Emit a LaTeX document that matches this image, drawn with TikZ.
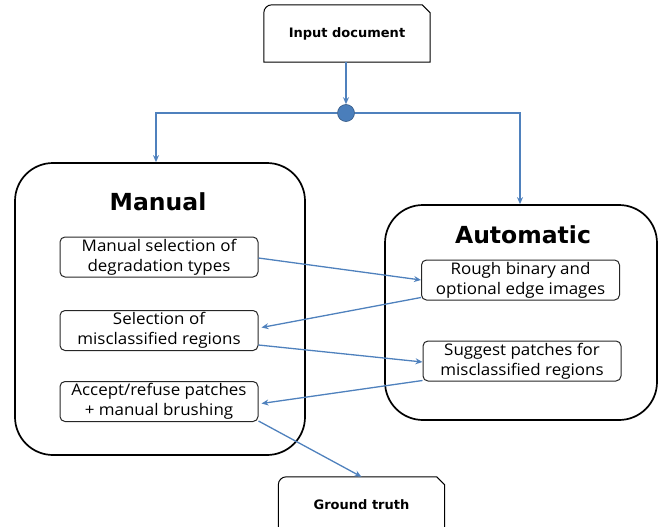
\documentclass[tikz,border=0pt]{standalone}
\usepackage{fontspec}
\setmainfont{Open Sans}
\newfontfamily\stepfont[FakeStretch=1.06]{Open Sans}
\newfontfamily\titlefont{DejaVu Sans}
\usetikzlibrary{arrows.meta,calc}
\definecolor{arrowblue}{HTML}{4F81BD}
\definecolor{dotblue}{HTML}{4A7EBB}
\tikzset{
  flow/.style={draw=arrowblue, line width=1.3pt, -{Stealth[length=7pt,width=6pt]}},
  bigbox/.style={draw=black, line width=1.7pt, rounded corners=38pt},
  stepbox/.style={draw=black!85, line width=1pt, rounded corners=5pt, minimum width=198pt, minimum height=40pt, align=center, font=\stepfont\fontsize{16}{20}\selectfont, inner sep=0pt},
  termbox/.style={minimum width=166pt, minimum height=57pt, inner sep=0pt, font=\titlefont\bfseries\fontsize{13}{15}\selectfont},
  title/.style={font=\titlefont\bfseries\fontsize{23.5}{26}\selectfont}
}
\begin{document}
\begin{tikzpicture}[x=1pt,y=-1pt]
\useasboundingbox (0,0) rectangle (667,527);
\clip (0,0) rectangle (667,527);
% Input document
\node[termbox] (in) at (347,33.5) {Input document};
\draw[line width=1pt] (in.south west) -- ($(in.north west)+(0,8)$) [rounded corners=8pt] -- (in.north west) [sharp corners] -- ($(in.north east)+(-8,0)$) -- ($(in.north east)+(0,8)$) -- (in.south east) -- cycle;
% junction
\node[circle, fill=dotblue, draw=dotblue!70!black, line width=0.6pt, minimum size=17pt, inner sep=0pt] (j) at (346,113) {};
\draw[flow] (in.south -| j) -- (j.north);
% Manual
\node[bigbox, minimum width=290pt, minimum height=292pt] (man) at (160,309) {};
\node[title] (mant) at (158,202) {Manual};
% Automatic
\node[bigbox, minimum width=272pt, minimum height=215pt] (aut) at (521,312.5) {};
\node[title] (autt) at (523,235) {Automatic};
% branches
\coordinate (jl) at (156,113);
\coordinate (jr) at (520,113);
\draw[flow] (j.west) -- (jl) -- (jl |- man.north);
\draw[flow] (j.east) -- (jr) -- (jr |- aut.north);
% steps
\node[stepbox] (s1) at (159,257) {Manual selection of\\degradation types};
\node[stepbox] (s2) at (159,330.5) {Selection of\\misclassified regions};
\node[stepbox] (s3) at (159,401.5) {Accept/refuse patches\\+ manual brushing};
\node[stepbox] (r1) at (520.5,280) {Rough binary and\\optional edge images};
\node[stepbox] (r2) at (522,361) {Suggest patches for\\misclassified regions};
% Ground truth
\node[termbox, minimum height=64pt] (gt) at (361.5,509) {};
\node[font=\titlefont\bfseries\fontsize{13}{15}\selectfont] (gtt) at (361.5,505) {Ground truth};
\draw[line width=1pt] (gt.south west) -- ($(gt.north west)+(0,8)$) [rounded corners=8pt] -- (gt.north west) [sharp corners] -- ($(gt.north east)+(-8,0)$) -- ($(gt.north east)+(0,8)$) -- (gt.south east);
% cross arrows
\draw[flow] ($(s1.east)+(0,1)$) -- (r1.west);
\draw[flow] ($(r1.south west)+(0,-3)$) -- ($(s2.east)+(3,-3)$);
\draw[flow] ($(s2.south east)+(0,-6)$) -- ($(r2.west)+(0,1)$);
\draw[flow] ($(r2.south west)+(0,-1)$) -- ($(s3.east)+(3,2)$);
\draw[flow] ($(s3.south east)+(0,-1)$) -- (gt.north);
\end{tikzpicture}
\end{document}
